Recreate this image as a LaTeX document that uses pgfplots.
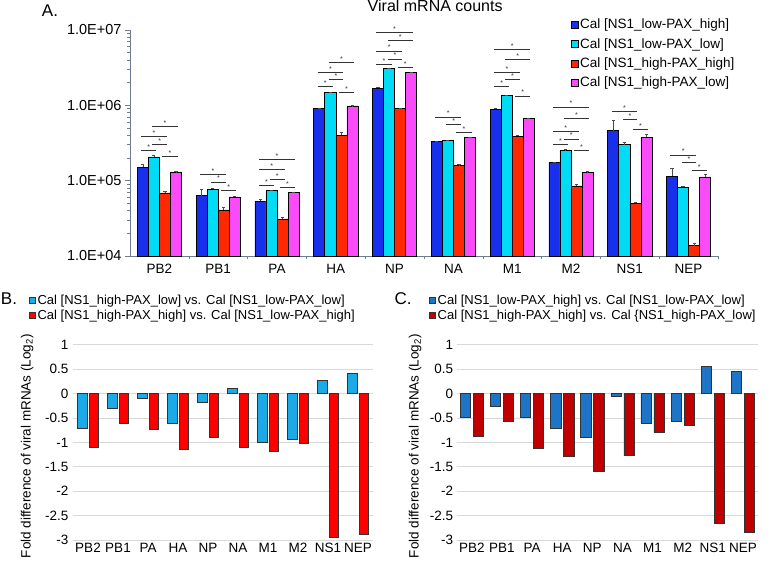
\documentclass[border=0pt]{standalone}
\usepackage{pgfplots}
\pgfplotsset{compat=1.18}
\usepackage{pgfplotstable}
\usepackage{fontspec}
\setmainfont{Liberation Sans}

\definecolor{cBlue}{RGB}{24,48,235}
\definecolor{cCyan}{RGB}{0,220,245}
\definecolor{cRed}{RGB}{255,40,0}
\definecolor{cMag}{RGB}{250,75,250}
\definecolor{bCyan}{RGB}{28,170,230}
\definecolor{bRed}{RGB}{255,0,0}
\definecolor{cBl}{RGB}{30,117,200}
\definecolor{cDR}{RGB}{192,0,0}
\definecolor{axgray}{RGB}{110,125,145}

\pgfplotstableread{
x bv be cv ce rv re mv me
0 1.50e5 1.3e4 2.07e5 1.0e4 6.9e4 4e3 1.30e5 2e3
1 6.3e4 1.4e4 7.7e4 3e3 4.1e4 3e3 6.1e4 1e3
2 5.3e4 4e3 7.4e4 1e3 3.1e4 2e3 7.0e4 1e3
3 9.0e5 3e4 1.47e6 2e4 4.0e5 4e4 9.8e5 1e4
4 1.69e6 5e4 3.1e6 5e4 9.0e5 2e4 2.75e6 3e4
5 3.3e5 5e3 3.4e5 5e3 1.58e5 8e3 3.77e5 5e3
6 8.9e5 3e4 1.35e6 2e4 3.9e5 1e4 6.7e5 1e4
7 1.73e5 5e3 2.5e5 1e4 8.5e4 4e3 1.3e5 2e3
8 4.6e5 1.8e5 3.0e5 2.9e4 5.0e4 2e3 3.77e5 4e4
9 1.15e5 3.1e4 8.2e4 3e3 1.37e4 1e3 1.12e5 1.1e4
}\tA

\def\sA{-0.31}\def\sB{-0.12}\def\sC{0.05}
\def\eB{-0.05}\def\eC{0.13}\def\eD{0.31}
\newcommand\sig[4]{%
  \pgfmathsetmacro\sxa{#1+#2}%
  \pgfmathsetmacro\sxb{#1+#3}%
  \addplot[black!80, line width=1pt, forget plot] coordinates {(\sxa,#4) (\sxb,#4)}
    node[pos=0.5, above, inner sep=0.6pt, font=\fontsize{7}{7}\selectfont, text=black!80] {*};
}

\pgfplotsset{
  topbar/.style={ybar, bar width=0.1875, bar shift=0, draw=black, line width=0.6pt,
    error bars/y dir=plus, error bars/y explicit,
    error bars/error bar style={black!70, line width=0.5pt},
    error bars/error mark options={rotate=90, black!70, mark size=1.6pt},
    legend image code/.code={\draw[##1, draw=black, line width=0.5pt] (0pt,-3.5pt) rectangle (7pt,3.5pt);}},
  botbar/.style={ybar, draw=black!80, line width=0.5pt,
    legend image code/.code={\draw[##1, draw=black!80, line width=0.5pt] (0pt,-3pt) rectangle (6pt,3pt);}},
}

\begin{document}
\begin{tikzpicture}
\useasboundingbox (0,0) rectangle (783pt,-564pt);

\node[font=\fontsize{17}{17}\selectfont, anchor=center] at (50pt,-11pt) {A.};
\node[font=\fontsize{17}{17}\selectfont, anchor=center] at (9pt,-299pt) {B.};
\node[font=\fontsize{17}{17}\selectfont, anchor=center] at (403pt,-299pt) {C.};

% ---------- Panel A ----------
\begin{axis}[
  at={(130pt,-256pt)}, anchor=south west, scale only axis,
  width=588pt, height=226pt,
  ymode=log, ymin=1e4, ymax=1e7, log origin=infty,
  xmin=-0.5, xmax=9.5,
  xtick={0,...,9}, xticklabels={PB2,PB1,PA,HA,NP,NA,M1,M2,NS1,NEP},
  minor xtick={0.5,1.5,2.5,3.5,4.5,5.5,6.5,7.5,8.5,9.5},
  ytick={1e4,1e5,1e6,1e7}, yticklabels={1.0E+04,1.0E+05,1.0E+06,1.0E+07},
  minor ytick={2e4,3e4,4e4,5e4,6e4,7e4,8e4,9e4,2e5,3e5,4e5,5e5,6e5,7e5,8e5,9e5,2e6,3e6,4e6,5e6,6e6,7e6,8e6,9e6},
  axis x line*=bottom, axis y line*=left,
  axis line style={-, draw=axgray, line width=0.8pt},
  tick align=outside, major tick length=5pt, minor tick length=3pt,
  tick style={axgray, line width=0.6pt},
  major x tick style={draw=none},
  clip=false,
  tick label style={font=\fontsize{13.5}{15}\selectfont},
  yticklabel style={font=\fontsize{14.5}{16}\selectfont},
  /pgf/number format/assume math mode=true,
  title={Viral mRNA counts},
  title style={at={(axis description cs:0.519,1.08)}, anchor=center, font=\fontsize{16}{18}\selectfont},
  legend style={at={(axis description cs:0.749,1.058)}, anchor=north west, draw=none, fill=none,
    font=\fontsize{13.5}{15}\selectfont, row sep=4pt, inner sep=0pt},
  legend cell align=left,
]
\addplot[topbar, fill=cBlue] table[x expr=\thisrow{x}-0.28125, y=bv, y error=be]{\tA};
\addlegendentry{Cal [NS1\_low-PAX\_high]}
\addplot[topbar, fill=cCyan] table[x expr=\thisrow{x}-0.09375, y=cv, y error=ce]{\tA};
\addlegendentry{Cal [NS1\_low-PAX\_low]}
\addplot[topbar, fill=cRed] table[x expr=\thisrow{x}+0.09375, y=rv, y error=re]{\tA};
\addlegendentry{Cal [NS1\_high-PAX\_high]}
\addplot[topbar, fill=cMag] table[x expr=\thisrow{x}+0.28125, y=mv, y error=me]{\tA};
\addlegendentry{Cal [NS1\_high-PAX\_low]}

% significance lines: group, start, end, y
\sig{0}{\sA}{\eB}{2.48e5}\sig{0}{\sB}{\eC}{3.04e5}\sig{0}{\sA}{\eC}{3.80e5}\sig{0}{\sB}{\eD}{5.16e5}\sig{0}{\sC}{\eD}{2.08e5}
\sig{1}{\sA}{\eC}{1.215e5}\sig{1}{\sB}{\eC}{9.6e4}\sig{1}{\sC}{\eD}{7.36e4}
\sig{2}{\sA}{\eD}{1.92e5}\sig{2}{\sA}{\eC}{1.40e5}\sig{2}{\sB}{\eC}{1.04e5}\sig{2}{\sA}{\eB}{8.58e4}\sig{2}{\sC}{\eD}{8.17e4}
\sig{3}{\sB}{\eD}{3.68e6}\sig{3}{\sA}{\eC}{2.71e6}\sig{3}{\sB}{\eC}{2.17e6}\sig{3}{\sA}{\eB}{1.78e6}\sig{3}{\sC}{\eD}{1.48e6}
\sig{4}{\sA}{\eD}{9.33e6}\sig{4}{\sB}{\eD}{7.15e6}\sig{4}{\sA}{\eC}{5.26e6}\sig{4}{\sB}{\eC}{4.12e6}\sig{4}{\sA}{\eB}{3.51e6}\sig{4}{\sC}{\eD}{3.16e6}
\sig{5}{\sA}{\eC}{7.0e5}\sig{5}{\sB}{\eC}{5.6e5}\sig{5}{\sC}{\eD}{4.33e5}
\sig{6}{\sA}{\eD}{5.54e6}\sig{6}{\sB}{\eD}{4.0e6}\sig{6}{\sA}{\eC}{2.75e6}\sig{6}{\sB}{\eC}{2.19e6}\sig{6}{\sA}{\eB}{1.77e6}\sig{6}{\sC}{\eD}{1.33e6}
\sig{7}{\sA}{\eD}{9.5e5}\sig{7}{\sB}{\eD}{6.65e5}\sig{7}{\sA}{\eC}{4.47e5}\sig{7}{\sB}{\eC}{3.57e5}\sig{7}{\sA}{\eB}{2.98e5}\sig{7}{\sC}{\eD}{2.53e5}
\sig{8}{\sA}{\eC}{8.34e5}\sig{8}{\sB}{\eC}{6.45e5}\sig{8}{\sC}{\eD}{4.75e5}
\sig{9}{\sA}{\eC}{2.19e5}\sig{9}{\sB}{\eC}{1.73e5}\sig{9}{\sC}{\eD}{1.36e5}
\end{axis}

% ---------- Panel B ----------
\begin{axis}[
  at={(73pt,-540pt)}, anchor=south west, scale only axis,
  width=300pt, height=195.3pt,
  xmin=-0.5, xmax=9.5, ymin=-3, ymax=1,
  xtick={0,...,9}, xticklabels={PB2,PB1,PA,HA,NP,NA,M1,M2,NS1,NEP},
  ytick={-3,-2.5,-2,-1.5,-1,-0.5,0,0.5,1},
  ymajorgrids, grid style={gray!30, line width=0.8pt},
  axis line style={draw=none}, major tick length=0pt,
  tick label style={font=\fontsize{13.5}{15}\selectfont},
  yticklabel style={xshift=-1pt},
  /pgf/number format/assume math mode=true,
  ylabel={Fold difference of viral mRNAs (Log\textsubscript{2})},
  ylabel style={at={(axis description cs:-0.153,0.48)}, anchor=center, font=\fontsize{13.5}{15}\selectfont},
  legend style={at={(axis description cs:-0.147,1.265)}, anchor=north west, draw=none, fill=none,
    font=\fontsize{13}{14}\selectfont, row sep=0pt, inner sep=0pt},
  legend cell align=left,
]
\addplot[botbar, fill=bCyan, bar width=0.32, bar shift=-0.195] coordinates {(0,-0.71) (1,-0.30) (2,-0.09) (3,-0.60) (4,-0.18) (5,0.11) (6,-1.0) (7,-0.935) (8,0.27) (9,0.42)};
\addlegendentry{Cal [NS1\_high-PAX\_low] vs. Cal [NS1\_low-PAX\_low]}
\addplot[botbar, fill=bRed, bar width=0.32, bar shift=0.195] coordinates {(0,-1.09) (1,-0.60) (2,-0.73) (3,-1.14) (4,-0.89) (5,-1.11) (6,-1.18) (7,-1.02) (8,-2.95) (9,-2.88)};
\addlegendentry{Cal [NS1\_high-PAX\_high] vs. Cal [NS1\_low-PAX\_high]}
\end{axis}

% ---------- Panel C ----------
\begin{axis}[
  at={(456.7pt,-540pt)}, anchor=south west, scale only axis,
  width=301.3pt, height=195.3pt,
  xmin=-0.5, xmax=9.5, ymin=-3, ymax=1,
  xtick={0,...,9}, xticklabels={PB2,PB1,PA,HA,NP,NA,M1,M2,NS1,NEP},
  ytick={-3,-2.5,-2,-1.5,-1,-0.5,0,0.5,1},
  ymajorgrids, grid style={gray!30, line width=0.8pt},
  axis line style={draw=none}, major tick length=0pt,
  tick label style={font=\fontsize{13.5}{15}\selectfont},
  /pgf/number format/assume math mode=true,
  ylabel={Fold difference of viral mRNAs (Log\textsubscript{2})},
  ylabel style={at={(axis description cs:-0.138,0.48)}, anchor=center, font=\fontsize{13.5}{15}\selectfont},
  legend style={at={(axis description cs:-0.092,1.265)}, anchor=north west, draw=none, fill=none,
    font=\fontsize{13}{14}\selectfont, row sep=0pt, inner sep=0pt},
  legend cell align=left,
]
\addplot[botbar, fill=cBl, bar width=0.34, bar shift=-0.215] coordinates {(0,-0.48) (1,-0.27) (2,-0.49) (3,-0.72) (4,-0.89) (5,-0.05) (6,-0.61) (7,-0.56) (8,0.56) (9,0.46)};
\addlegendentry{Cal [NS1\_low-PAX\_high] vs. Cal [NS1\_low-PAX\_low]}
\addplot[botbar, fill=cDR, bar width=0.34, bar shift=0.215] coordinates {(0,-0.87) (1,-0.56) (2,-1.13) (3,-1.29) (4,-1.60) (5,-1.27) (6,-0.80) (7,-0.64) (8,-2.66) (9,-2.85)};
\addlegendentry{Cal [NS1\_high-PAX\_high] vs. Cal \{NS1\_high-PAX\_low]}
\end{axis}
\end{tikzpicture}
\end{document}
